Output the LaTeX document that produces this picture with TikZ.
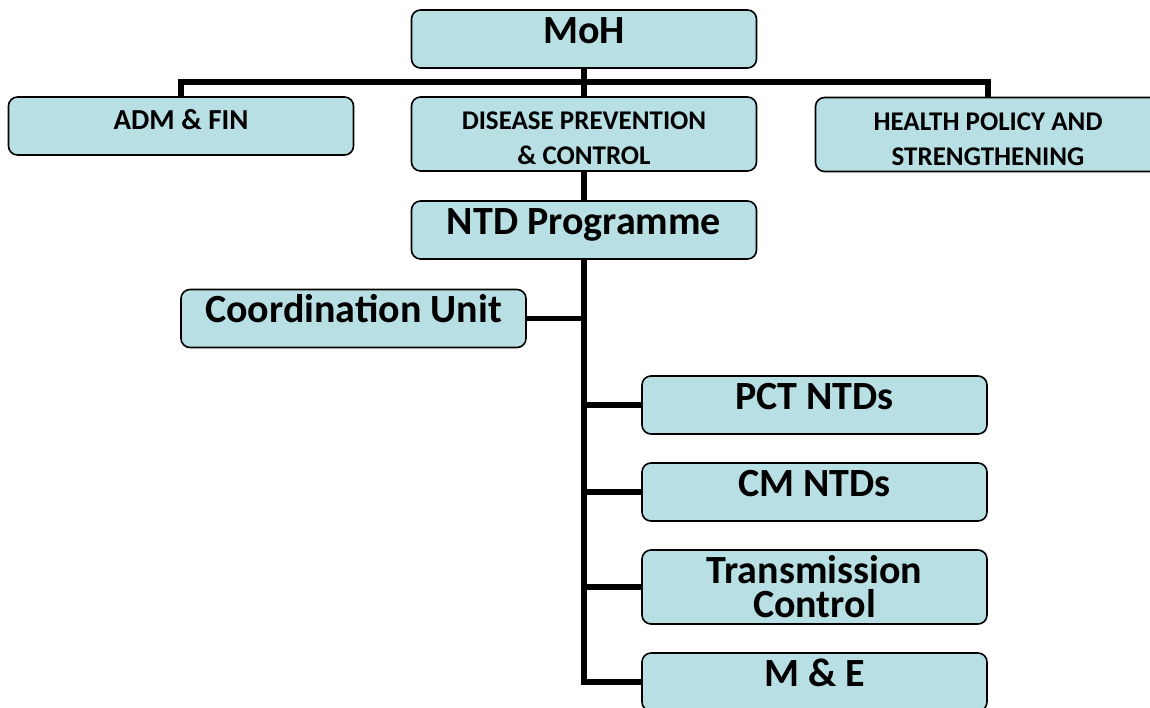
\documentclass[tikz,border=0pt]{standalone}
\usepackage{fontspec}
\setmainfont{Carlito}
\usepackage{tikz}
\usetikzlibrary{calc}
\definecolor{boxfill}{RGB}{184,223,227}
\tikzstyle{unit} = [draw=black, line width=1.6pt, fill=boxfill, rounded corners=9pt, minimum width=345pt, align=center, inner sep=1pt]
\tikzstyle{bigone} = [unit, minimum height=58pt, font=\bfseries\fontsize{40}{34}\selectfont, text height=28pt, text depth=20pt]
\tikzstyle{bigtwo} = [unit, minimum height=74pt, font=\bfseries\fontsize{40}{34}\selectfont]
\tikzstyle{smallone} = [unit, minimum height=58pt, font=\bfseries\fontsize{29}{35}\selectfont, text height=20pt, text depth=13pt]
\tikzstyle{smalltwo} = [unit, minimum height=74pt, font=\bfseries\fontsize{27}{35}\selectfont, text height=66pt, text depth=5pt]
\tikzstyle{conn} = [line width=5.5pt, black]

\begin{document}
\begin{tikzpicture}[x=1pt, y=-1pt]
\useasboundingbox (0,0) rectangle (1150,707);

\node[bigone] (moh) at (584,39) {MoH};
\node[smallone] (adm) at (181,126) {ADM \& FIN};
\node[smalltwo] (dpc) at (584,134) {DISEASE PREVENTION\\\& CONTROL};
\node[smalltwo] (hps) at (988,134.5) {HEALTH POLICY AND\\STRENGTHENING};
\node[bigone] (ntd) at (584,230) {NTD Programme};
\node[bigone] (cu) at (353.5,318.5) {Coordination Unit};
\node[bigone] (pct) at (814.5,405) {PCT NTDs};
\node[bigone] (cm) at (814.5,492) {CM NTDs};
\node[bigtwo] (tc) at (814.5,587) {Transmission\\Control};
\node[bigone] (me) at (814.5,682) {M \& E};

\coordinate (bus) at (584,82);
\draw[conn] (adm.north) |- (bus) -| (hps.north);
\draw[conn] (moh.south) -- (dpc.north);
\draw[conn] (dpc.south) -- (ntd.north);
\draw[conn] (ntd.south) |- (me.west);
\draw[conn] (cu.east) -- (cu.east -| ntd.south);
\foreach \u in {pct, cm, tc} {
    \draw[conn] (\u.west -| ntd.south) -- (\u.west);
}
\end{tikzpicture}
\end{document}
